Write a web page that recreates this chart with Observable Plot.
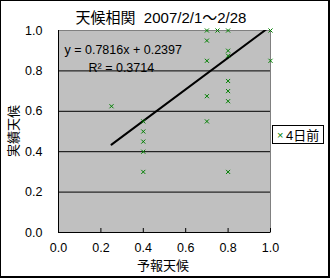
<!DOCTYPE html>
<html><head><meta charset="utf-8">
<script src="https://cdn.jsdelivr.net/npm/d3@7"></script>
<script src="https://cdn.jsdelivr.net/npm/@observablehq/plot@0.6"></script>
<style>
body{margin:0;background:#fff;}
#chart svg{display:block;}
</style>
</head><body><div id="chart"></div>
<script>
const title = "天候相関  2007/2/1～2/28";
const xLabel = "予報天候";
const yLabel = "実績天候";
const seriesName = "4日前";
const forecast = [0.25, 0.4, 0.4, 0.4, 0.4, 0.4, 0.7, 0.7, 0.7, 0.7, 0.7, 0.75, 0.8, 0.8, 0.8, 0.8, 0.8, 0.8, 0.8, 1.0, 1.0];
const actual   = [0.625, 0.55, 0.5, 0.45, 0.4, 0.3, 1.0, 0.95, 0.85, 0.675, 0.55, 1.0, 1.0, 0.9, 0.875, 0.75, 0.7, 0.65, 0.3, 1.0, 0.85];
const slope = 0.7816, intercept = 0.2397, rSquared = 0.3714;
const xTicks = [0, 0.2, 0.4, 0.6, 0.8, 1.0];
const yTicks = [0, 0.2, 0.4, 0.6, 0.8, 1.0];
const gridY = [0.2, 0.4, 0.6, 0.8];

const points = forecast.map((f, i) => ({x: f, y: actual[i]}));
const xMin = d3.min(forecast), xMax = d3.max(forecast);
const trend = [xMin, xMax].map(x => ({x, y: slope * x + intercept}));
const eq1 = `y = ${slope}x + ${intercept}`;
const eq2 = `R² = ${rSquared}`;
const font = "'Liberation Sans', 'Noto Sans CJK JP', sans-serif";

const plot = Plot.plot({
  width: 330, height: 278,
  marginLeft: 58, marginRight: 60, marginTop: 30, marginBottom: 46,
  style: {fontFamily: font, fontSize: "12.5px", background: "white", color: "black", overflow: "visible"},
  x: {domain: [0, 1]},
  y: {domain: [0, 1]},
  marks: [
    Plot.frame({fill: "#c0c0c0", stroke: "#808080"}),
    Plot.ruleY(gridY, {stroke: "black", strokeWidth: 1}),
    Plot.axisX({ticks: xTicks, tickSize: 0, tickPadding: 11, tickFormat: d3.format(".1f"), label: null}),
    Plot.axisX({ticks: xTicks, tickSize: -4, tickFormat: () => "", label: null}),
    Plot.axisY({ticks: yTicks, tickSize: 0, tickPadding: 16, tickFormat: d3.format(".1f"), label: null}),
    Plot.ruleX([0], {stroke: "black"}),
    Plot.ruleY([0], {stroke: "black"}),
    Plot.line(trend, {x: "x", y: "y", stroke: "black", strokeWidth: 2, clip: true}),
    Plot.dot(points, {x: "x", y: "y", symbol: "times", r: 2, stroke: "#008000", strokeWidth: 1}),
    Plot.text([eq1], {frameAnchor: "top-left", dx: 6, dy: 15, text: d => d, textAnchor: "start", fontSize: 12.5}),
    Plot.text([eq2], {frameAnchor: "top-left", dx: 30, dy: 33, text: d => d, textAnchor: "start", fontSize: 12.5})
  ]
});

const svg = d3.select(plot);
const addText = (x, y, txt, size, opts = {}) => {
  const t = svg.append("text").attr("x", x).attr("y", y)
    .attr("text-anchor", opts.anchor || "start").attr("dominant-baseline", "central")
    .attr("fill", opts.fill || "black")
    .style("font-family", font).style("font-size", size + "px").style("white-space", "pre").text(txt);
  if (opts.rotate) t.attr("transform", `rotate(${opts.rotate},${x},${y})`);
  return t;
};
addText(161, 17, title, 15, {anchor: "middle"});
addText(163, 265, xLabel, 13, {anchor: "middle"});
addText(13, 131, yLabel, 13, {anchor: "middle", rotate: -90});
// legend
svg.append("rect").attr("x", 272.5).attr("y", 125.5).attr("width", 51).attr("height", 18).attr("fill", "white").attr("stroke", "black");
addText(277, 135, "×", 11, {fill: "#008000"});
addText(286, 135, seriesName, 13);
// outer border
svg.append("rect").attr("x", 0.5).attr("y", 0.5).attr("width", 328).attr("height", 276).attr("fill", "none").attr("stroke", "black").attr("stroke-width", 1);
svg.append("path").attr("d", "M329.5,0V278M0,277.5H330").attr("stroke", "black").attr("fill", "none");
document.getElementById("chart").append(plot);
</script>
</body></html>
